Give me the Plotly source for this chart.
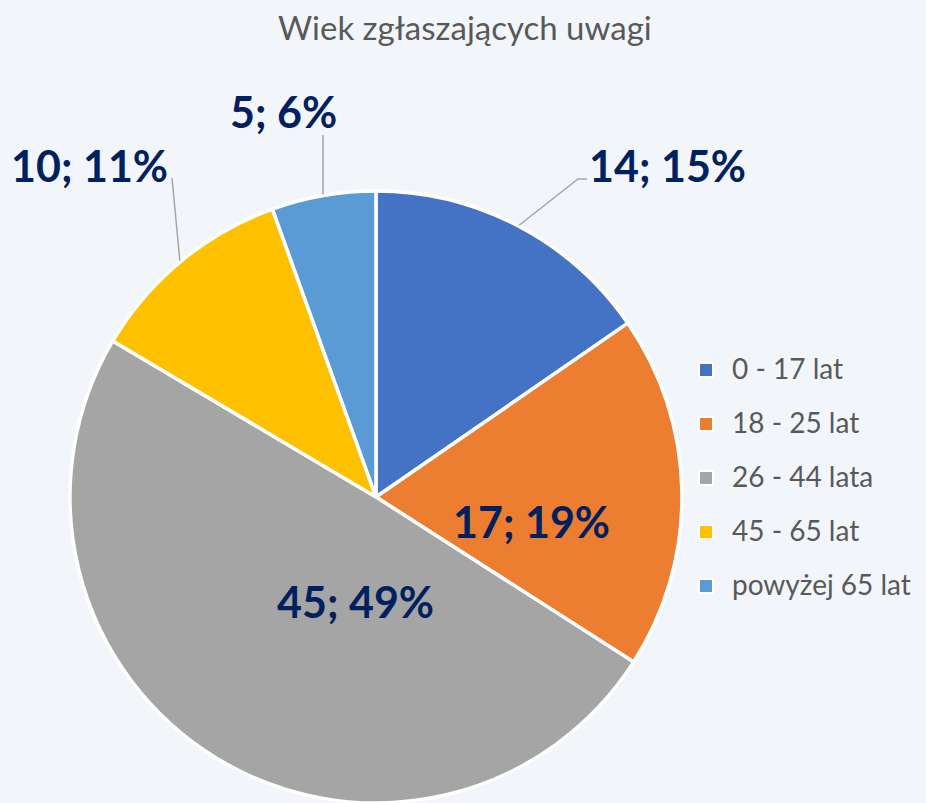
import math
import plotly.graph_objects as go

# Age groups of people submitting comments
categories = ["0 - 17 lat", "18 - 25 lat", "26 - 44 lata", "45 - 65 lat", "powyżej 65 lat"]
counts = [14, 17, 45, 10, 5]
percents = [15, 19, 49, 11, 6]
colors = ["#4472C4", "#ED7D31", "#A5A5A5", "#FFC000", "#5B9BD5"]

W, H = 926, 803
BG = "#F2F6FA"
LABEL_COLOR = "#002060"
TEXT_GRAY = "#595959"
FONT = "Lato, 'Open Sans', sans-serif"

# pie geometry in pixels
CX, CY, R = 376, 498, 307


def px(x, y):
    """pixel (from top-left) -> paper coordinates"""
    return x / W, 1 - y / H


total = sum(counts)
texts = [f"{c}; {p}%" for c, p in zip(counts, percents)]

# mid-angle of each slice, measured clockwise from 12 o'clock
mids = []
acc = 0
for c in counts:
    a0 = acc / total * 360
    acc += c
    a1 = acc / total * 360
    mids.append((a0 + a1) / 2)


def edge_point(angle_deg, rr=R):
    a = math.radians(angle_deg)
    return CX + rr * math.sin(a), CY - rr * math.cos(a)


x0, x1 = (CX - R) / W, (CX + R) / W
y0, y1 = 0.0, 1 - (CY - R) / H

fig = go.Figure(
    go.Pie(
        labels=categories,
        values=counts,
        sort=False,
        direction="clockwise",
        rotation=0,
        marker=dict(colors=colors, line=dict(color="white", width=3.5)),
        textinfo="none",
        hoverinfo="skip",
        showlegend=False,
        domain=dict(x=[x0, x1], y=[y0, y1]),
    )
)

# label placement (pixel centers) and leader-line elbows for outside labels
label_pos = [(667, 166), (531, 521), (355, 601), (89, 166), (283, 111)]
leader_elbows = [[(578, 179), (587, 179)], None, None, [(172, 178)], [(323, 135)]]

annotations = []
shapes = []
for i, t in enumerate(texts):
    lx, ly = label_pos[i]
    ax, ay = px(lx, ly)
    annotations.append(dict(
        x=ax, y=ay, xref="paper", yref="paper", text=f"<b>{t}</b>",
        showarrow=False, xanchor="center", yanchor="middle",
        font=dict(family=FONT, size=43, color=LABEL_COLOR),
    ))
    if leader_elbows[i]:
        pts = [edge_point(mids[i], R + 1)] + leader_elbows[i]
        path = "M " + " L ".join(f"{px(x, y)[0]},{px(x, y)[1]}" for x, y in pts)
        shapes.append(dict(type="path", xref="paper", yref="paper", path=path,
                           line=dict(color="#A6A6A6", width=1.5)))

# legend drawn as squares + text
leg_x, leg_y0, leg_dy, sq = 706, 370, 54, 14
for i, (cat, col) in enumerate(zip(categories, colors)):
    cy = leg_y0 + i * leg_dy
    sx0, sy0 = px(leg_x - sq / 2, cy - sq / 2)
    sx1, sy1 = px(leg_x + sq / 2, cy + sq / 2)
    shapes.append(dict(type="rect", xref="paper", yref="paper",
                       x0=sx0, y0=sy0, x1=sx1, y1=sy1,
                       fillcolor=col, line=dict(color="white", width=2)))
    tx, ty = px(leg_x + 24, cy - 2)
    annotations.append(dict(
        x=tx, y=ty, xref="paper", yref="paper", text=cat, showarrow=False,
        xanchor="left", yanchor="middle",
        font=dict(family=FONT, size=28, color=TEXT_GRAY),
    ))

tx, ty = px(465, 27)
annotations.append(dict(
    x=tx, y=ty, xref="paper", yref="paper", text="Wiek zgłaszających uwagi",
    showarrow=False, xanchor="center", yanchor="middle",
    font=dict(family=FONT, size=33, color=TEXT_GRAY),
))

fig.update_layout(
    width=W, height=H,
    margin=dict(l=0, r=0, t=0, b=0),
    paper_bgcolor=BG, plot_bgcolor=BG,
    annotations=annotations,
    shapes=shapes,
)

fig.write_html("out.html")
